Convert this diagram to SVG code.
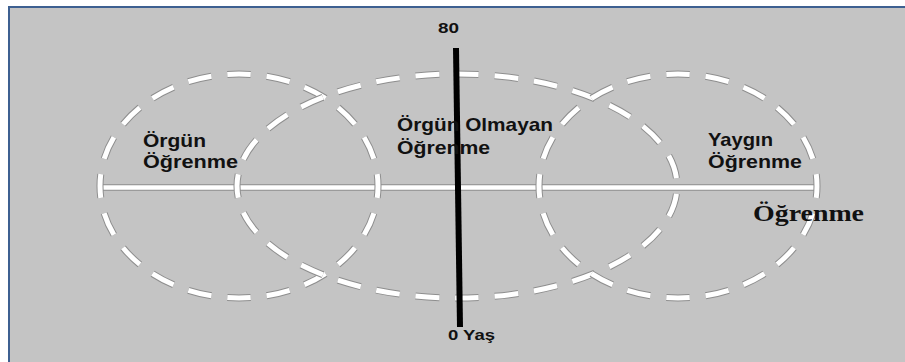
<svg xmlns="http://www.w3.org/2000/svg" width="905" height="362" viewBox="0 0 905 362">
  <style>
    .lbl { font-family: "Liberation Sans", Arial, sans-serif; font-weight: bold; font-size: 18.5px; fill: #111; }
    .axl { font-family: "Liberation Sans", Arial, sans-serif; font-weight: bold; font-size: 15px; fill: #111; }
    .ser { font-family: "Liberation Serif", "Times New Roman", serif; font-weight: bold; font-size: 24px; fill: #111; }
    .dash-o { fill: none; stroke: #8e8e8e; stroke-width: 7; stroke-dasharray: 24 16; stroke-dashoffset: 12; }
    .dash-i { fill: none; stroke: #ffffff; stroke-width: 5; stroke-dasharray: 24 16; stroke-dashoffset: 12; }
  </style>
  <rect x="0" y="0" width="905" height="362" fill="#ffffff"/>
  <rect x="9" y="7" width="905" height="365" fill="#c4c4c4" stroke="#3d6091" stroke-width="2"/>

  <g id="axes">
    <line x1="100" y1="187.5" x2="815" y2="187.5" stroke="#8e8e8e" stroke-width="6.5"/>
    <line x1="100" y1="187.5" x2="815" y2="187.5" stroke="#ffffff" stroke-width="4.5"/>
  </g>

  <g id="orgun">
    <path class="dash-o" pathLength="800" d="M100 186 A139 112 0 1 1 378 186 A139 112 0 1 1 100 186"/>
    <path class="dash-i" pathLength="800" d="M100 186 A139 112 0 1 1 378 186 A139 112 0 1 1 100 186"/>
    <text class="lbl" x="143" y="147" textLength="63" lengthAdjust="spacingAndGlyphs">Örgün</text>
    <text class="lbl" x="143" y="168" textLength="95" lengthAdjust="spacingAndGlyphs">Öğrenme</text>
  </g>

  <g id="orgun-olmayan">
    <path class="dash-o" pathLength="1080" d="M237 186 A220 112 0 1 1 677 186 A220 112 0 1 1 237 186"/>
    <path class="dash-i" pathLength="1080" d="M237 186 A220 112 0 1 1 677 186 A220 112 0 1 1 237 186"/>
  </g>

  <g id="yaygin">
    <path class="dash-o" pathLength="800" d="M539 186 A139 112 0 1 1 817 186 A139 112 0 1 1 539 186"/>
    <path class="dash-i" pathLength="800" d="M539 186 A139 112 0 1 1 817 186 A139 112 0 1 1 539 186"/>
    <text class="lbl" x="708" y="146" textLength="65" lengthAdjust="spacingAndGlyphs">Yaygın</text>
    <text class="lbl" x="708" y="168" textLength="94" lengthAdjust="spacingAndGlyphs">Öğrenme</text>
  </g>

  <g id="yas-axis">
    <line x1="456" y1="48" x2="460" y2="327" stroke="#000000" stroke-width="6"/>
    <text class="axl" x="438" y="33" textLength="21" lengthAdjust="spacingAndGlyphs">80</text>
    <text class="axl" x="448" y="340" textLength="47" lengthAdjust="spacingAndGlyphs">0 Yaş</text>
  </g>

  <g id="orgun-olmayan-label">
    <text class="lbl" x="397" y="131" textLength="156" lengthAdjust="spacingAndGlyphs">Örgün Olmayan</text>
    <text class="lbl" x="397" y="154" textLength="93" lengthAdjust="spacingAndGlyphs">Öğrenme</text>
  </g>

  <g id="ogrenme-axis-label">
    <text class="ser" x="753" y="221" textLength="111" lengthAdjust="spacingAndGlyphs">Öğrenme</text>
  </g>
</svg>
